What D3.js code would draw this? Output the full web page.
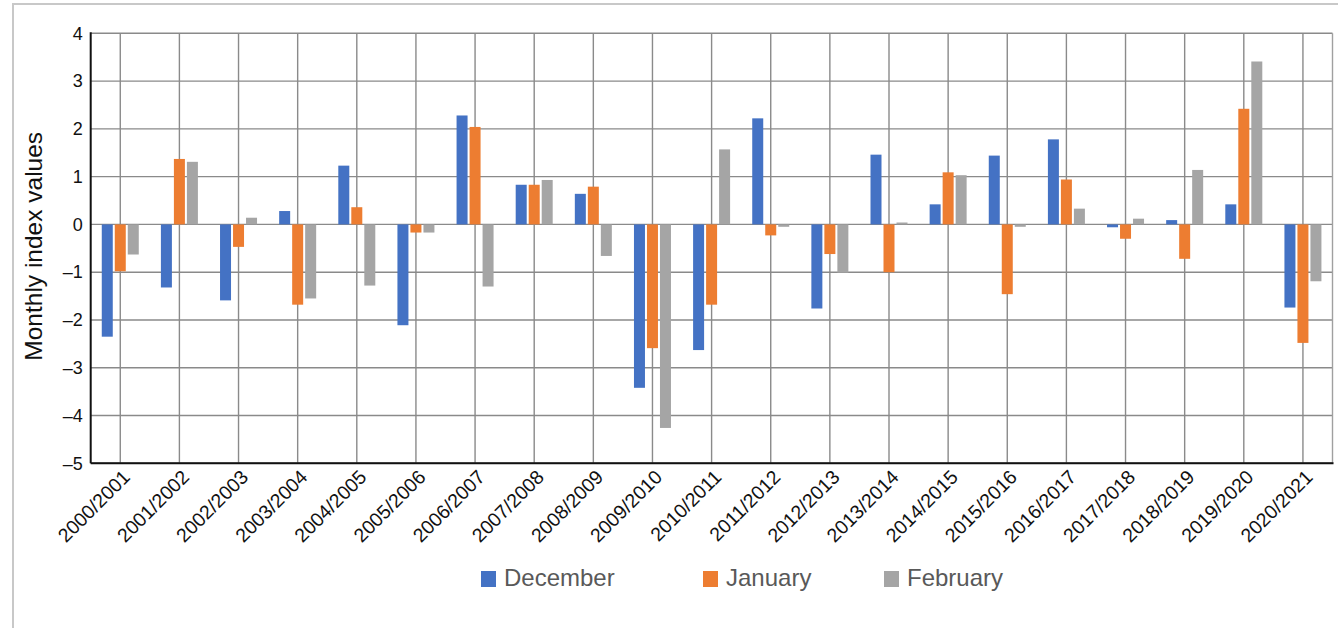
<!DOCTYPE html>
<html>
<head>
<meta charset="utf-8">
<script src="https://d3js.org/d3.v7.min.js"></script>
<style>
	body { margin: 0; background: #fff; }
	text { font-family: "Liberation Sans", Arial, sans-serif; }
</style>
</head>
<body>
<svg id="chart" width="1338" height="628"></svg>
<script>
// seasons (x categories)
var seasons = ["2000/2001","2001/2002","2002/2003","2003/2004","2004/2005","2005/2006","2006/2007",
	"2007/2008","2008/2009","2009/2010","2010/2011","2011/2012","2012/2013","2013/2014",
	"2014/2015","2015/2016","2016/2017","2017/2018","2018/2019","2019/2020","2020/2021"];

// monthly index values
var december = [-2.35,-1.32,-1.59,0.28,1.23,-2.11,2.28,0.83,0.64,-3.42,-2.63,2.22,-1.76,1.46,0.42,1.44,1.78,-0.06,0.09,0.42,-1.74];
var january  = [-0.98,1.37,-0.47,-1.68,0.36,-0.17,2.04,0.83,0.79,-2.59,-1.68,-0.23,-0.62,-1.00,1.09,-1.46,0.94,-0.30,-0.72,2.42,-2.48];
var february = [-0.63,1.31,0.14,-1.55,-1.28,-0.17,-1.30,0.93,-0.66,-4.26,1.57,-0.05,-1.01,0.04,1.03,-0.05,0.33,0.12,1.14,3.41,-1.19];

var months = ["December","January","February"];
var yTicks = [-5,-4,-3,-2,-1,0,1,2,3,4];

var colors = ["#4472C4","#ED7D31","#A5A5A5"];
var series = [december, january, february];

// plot box ("top" is taken by window.top, so use plot*)
var plotLeft = 90.7, plotRight = 1332.5, plotTop = 33.3, plotBottom = 463.3;
var groupWidth = 37;

var svg = d3.select("#chart");

// outer frame
svg.append("rect")
	.attr("x",13).attr("y",4)
	.attr("width",1340).attr("height",640)
	.attr("fill","none")
	.attr("stroke","#c8c8c8")
	.attr("stroke-width",2);

var x0 = d3.scaleBand().domain(seasons).range([plotLeft, plotRight]).padding(0);
var x1 = d3.scaleBand().domain(months).range([-groupWidth/2, groupWidth/2]).paddingInner(0.154);
var y = d3.scaleLinear().domain([-5,4]).range([plotBottom, plotTop]);

// horizontal grid
svg.append("g")
	.selectAll("line")
	.data(yTicks)
	.enter()
	.append("line")
	.attr("x1",plotLeft).attr("x2",plotRight)
	.attr("y1",function(d){ return y(d); })
	.attr("y2",function(d){ return y(d); })
	.attr("stroke","#8a8a8a")
	.attr("stroke-width",1.4);

// vertical grid through category centres
svg.append("g")
	.selectAll("line")
	.data(seasons)
	.enter()
	.append("line")
	.attr("x1",function(d){ return x0(d) + x0.bandwidth()/2; })
	.attr("x2",function(d){ return x0(d) + x0.bandwidth()/2; })
	.attr("y1",plotTop).attr("y2",plotBottom)
	.attr("stroke","#8a8a8a")
	.attr("stroke-width",1.4);

// right border of plot
svg.append("line")
	.attr("x1",plotRight).attr("x2",plotRight)
	.attr("y1",plotTop).attr("y2",plotBottom)
	.attr("stroke","#a0a0a0")
	.attr("stroke-width",1.4);

// bars
var rows = seasons.map(function(s,i){
	return months.map(function(m,j){ return {season:s, month:m, value:series[j][i], k:j}; });
});

svg.append("g")
	.selectAll("g")
	.data(rows)
	.enter()
	.append("g")
	.attr("transform",function(d){ return "translate(" + (x0(d[0].season) + x0.bandwidth()/2) + ",0)"; })
	.selectAll("rect")
	.data(function(d){ return d; })
	.enter()
	.append("rect")
	.attr("x",function(d){ return x1(d.month); })
	.attr("width",x1.bandwidth())
	.attr("y",function(d){ return Math.min(y(d.value), y(0)); })
	.attr("height",function(d){ return Math.abs(y(d.value) - y(0)); })
	.attr("fill",function(d){ return colors[d.k]; });

// y axis
var yAxis = d3.axisLeft(y)
	.tickValues(yTicks)
	.tickSize(0)
	.tickPadding(8)
	.tickFormat(function(d){ return d < 0 ? "\u2013" + Math.abs(d) : d; });

var yg = svg.append("g")
	.attr("transform","translate(" + plotLeft + ",0)")
	.call(yAxis);
yg.select(".domain").remove();
yg.selectAll("text")
	.attr("font-size","18px")
	.attr("font-family","Liberation Sans, Arial, sans-serif")
	.attr("fill","#111");

// x axis labels
var xAxis = d3.axisBottom(x0).tickSize(0).tickPadding(0);
var xg = svg.append("g")
	.attr("transform","translate(0," + plotBottom + ")")
	.call(xAxis);
xg.select(".domain").remove();
xg.selectAll(".tick text")
	.attr("font-size","19.5px")
	.attr("font-family","Liberation Sans, Arial, sans-serif")
	.attr("fill","#111")
	.attr("text-anchor","end")
	.attr("dy",0)
	.attr("y",0)
	.attr("transform","translate(11,15) rotate(-45)");

// axis lines
svg.append("line")
	.attr("x1",plotLeft).attr("x2",plotLeft)
	.attr("y1",plotTop - 1).attr("y2",plotBottom)
	.attr("stroke","#111").attr("stroke-width",2);
svg.append("line")
	.attr("x1",plotLeft).attr("x2",plotRight + 1)
	.attr("y1",plotBottom).attr("y2",plotBottom)
	.attr("stroke","#111").attr("stroke-width",2);

// y axis title
svg.append("text")
	.attr("transform","translate(42," + ((plotTop + plotBottom)/2 - 2) + ") rotate(-90)")
	.attr("text-anchor","middle")
	.attr("font-size","24.5px")
	.attr("fill","#111")
	.text("Monthly index values");

// legend
var legendX = [481, 703, 884];
var legend = svg.append("g")
	.selectAll("g")
	.data(months)
	.enter()
	.append("g")
	.attr("transform",function(d,i){ return "translate(" + legendX[i] + ",571)"; });

legend.append("rect")
	.attr("width",15).attr("height",16)
	.attr("fill",function(d,i){ return colors[i]; });

legend.append("text")
	.attr("x",23).attr("y",15)
	.attr("font-size","24px")
	.attr("fill","#595959")
	.text(function(d){ return d; });
</script>
</body>
</html>
